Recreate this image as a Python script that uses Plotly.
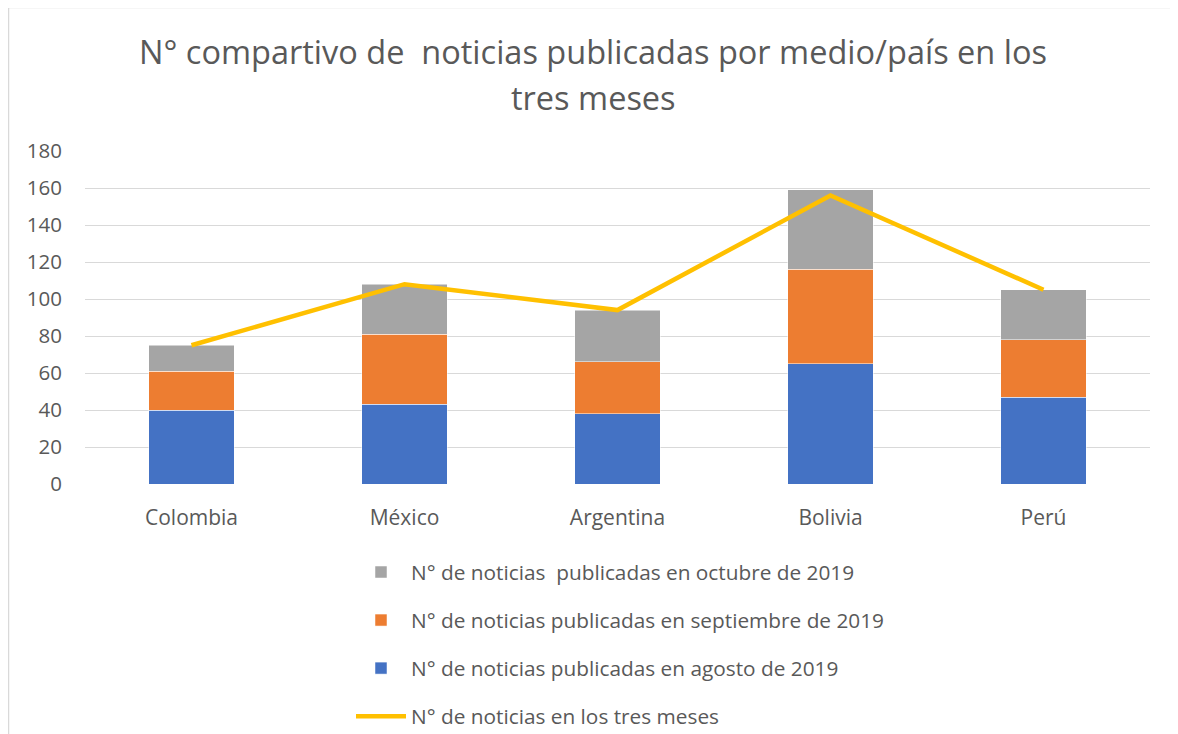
import plotly.graph_objects as go

paises = ["Colombia", "México", "Argentina", "Bolivia", "Perú"]
agosto = [40, 43, 38, 65, 47]
septiembre = [21, 38, 28, 51, 31]
octubre = [14, 27, 28, 43, 27]
total_tres_meses = [75, 108, 94, 156, 105]
y_ticks = [0, 20, 40, 60, 80, 100, 120, 140, 160, 180]

name_oct = "N° de noticias  publicadas en octubre de 2019"
name_sep = "N° de noticias publicadas en septiembre de 2019"
name_ago = "N° de noticias publicadas en agosto de 2019"
name_tot = "N° de noticias en los tres meses"

FONT = "Open Sans"
TXT = "#595959"

fig = go.Figure()
fig.add_trace(go.Bar(x=paises, y=agosto, name=name_ago, marker=dict(color="#4472C4", line=dict(color="white", width=0.5)),
                     legendgroup="a", legendrank=3))
fig.add_trace(go.Bar(x=paises, y=septiembre, name=name_sep, marker=dict(color="#ED7D31", line=dict(color="white", width=0.5)),
                     legendgroup="s", legendrank=2))
fig.add_trace(go.Bar(x=paises, y=octubre, name=name_oct, marker=dict(color="#A5A5A5", line=dict(color="white", width=0.5)),
                     legendgroup="o", legendrank=1))
fig.add_trace(go.Scatter(x=paises, y=total_tres_meses, name=name_tot, mode="lines",
                         line=dict(color="#FFC000", width=4.5), legendgroup="t", legendrank=4))

# page has an 8px body margin, so the figure is sized to fill the rest of the window
OFF = 8
W, H = 1170, 726
L, R, T, B = 77, 28, 143, 250
pw = W - L - R
ph = H - T - B

def px_x(x_page):
    return (x_page - OFF - L) / pw

def px_y(y_page):
    return (H - B - (y_page - OFF)) / ph

fig.update_layout(
    width=W, height=H,
    margin=dict(l=L, r=R, t=T, b=B, autoexpand=False),
    barmode="stack", bargap=0.6,
    paper_bgcolor="white", plot_bgcolor="white",
    font=dict(family=FONT, color=TXT, size=20),
    showlegend=True,
    legend=dict(orientation="v", x=px_x(351), xanchor="left", y=px_y(552), yanchor="top",
                traceorder="grouped", tracegroupgap=18, itemwidth=50,
                font=dict(family=FONT, size=20.8, color=TXT), bgcolor="rgba(0,0,0,0)"),
    xaxis=dict(type="category", showgrid=False, showline=False, ticks="", ticklabelstandoff=19,
               automargin=False, tickfont=dict(size=21, color=TXT)),
    yaxis=dict(range=[0, 180], tickvals=y_ticks, showgrid=True, gridcolor="#D9D9D9", gridwidth=1.3,
               zeroline=False, showline=False, ticks="", ticklabelstandoff=22, automargin=False,
               tickfont=dict(size=20.5, color=TXT)),
    annotations=[
        dict(text="N° compartivo de  noticias publicadas por medio/país en los", xref="paper", yref="paper",
             x=px_x(593), y=px_y(52), xanchor="center", yanchor="middle", showarrow=False,
             font=dict(family=FONT, size=32.5, color=TXT)),
        dict(text="tres meses", xref="paper", yref="paper",
             x=px_x(593), y=px_y(97), xanchor="center", yanchor="middle", showarrow=False,
             font=dict(family=FONT, size=32.5, color=TXT)),
    ],
    shapes=[
        dict(type="rect", xref="paper", yref="paper", x0=px_x(8.5), x1=px_x(1200), y0=px_y(760), y1=px_y(7.5),
             line=dict(color="#D9D9D9", width=1.5), fillcolor="rgba(0,0,0,0)", layer="below"),
    ],
)

fig.write_html("out.html")
